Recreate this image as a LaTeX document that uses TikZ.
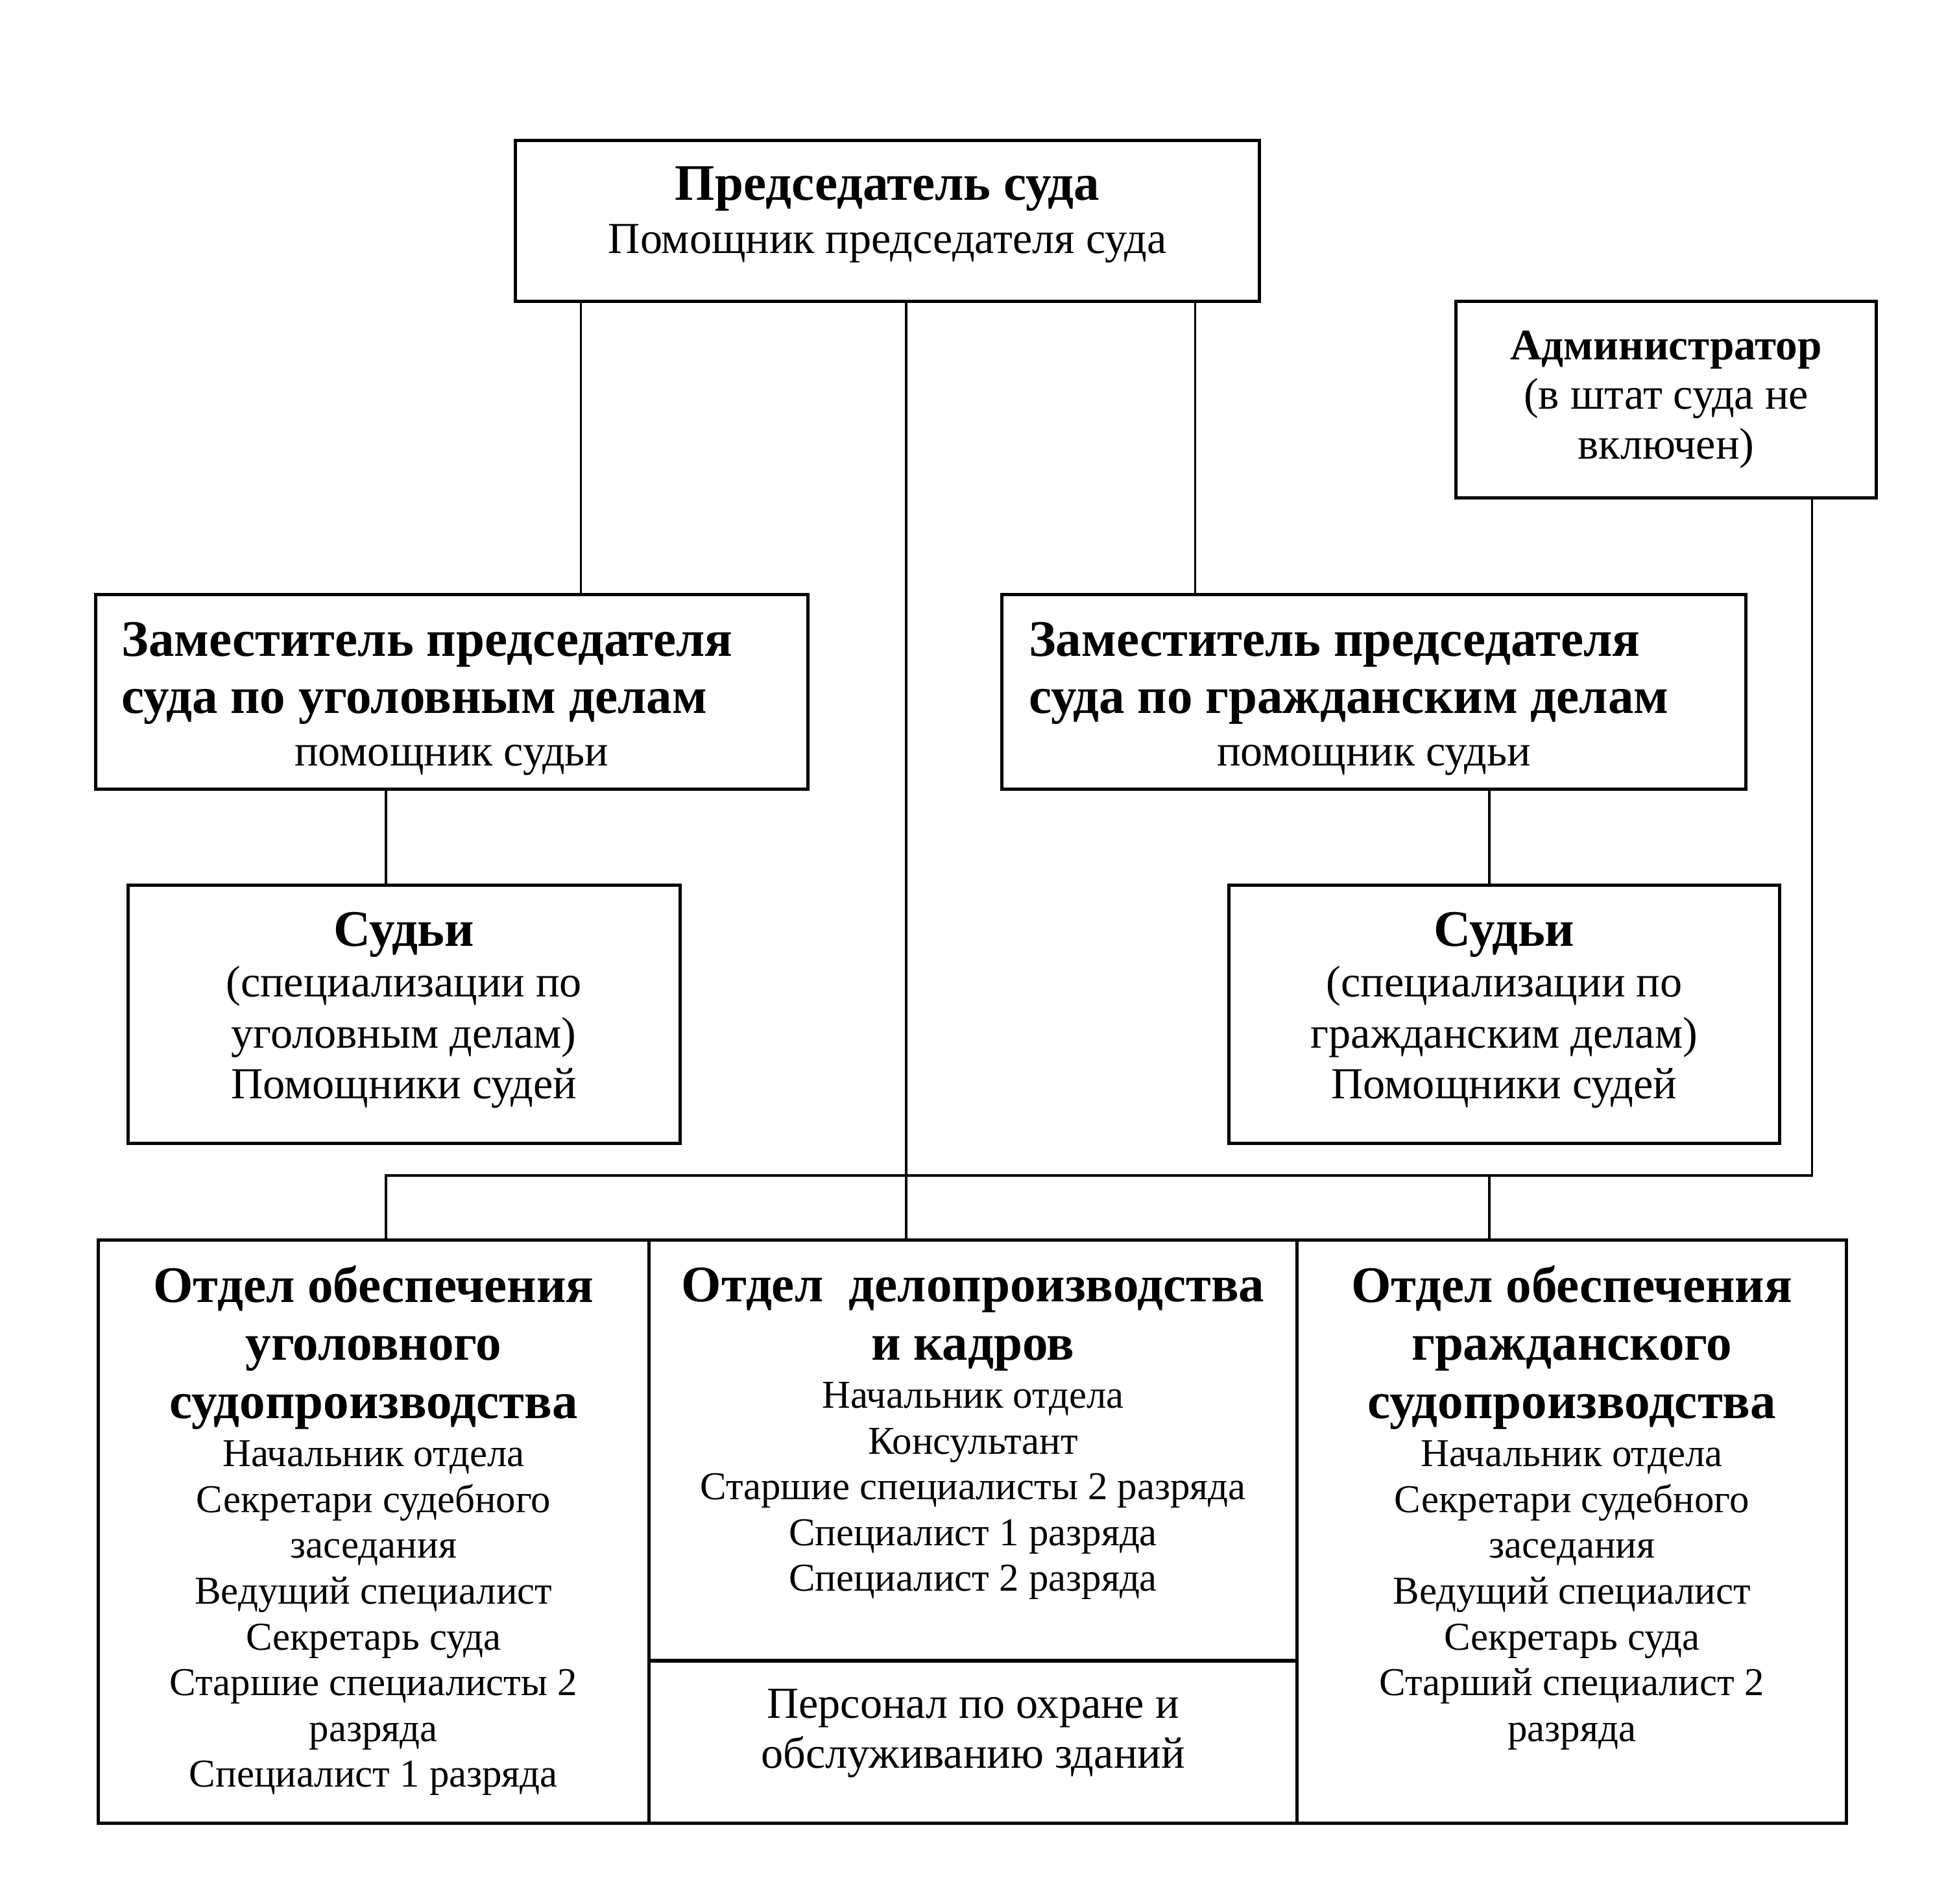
\documentclass[tikz,border=0pt]{standalone}
\usepackage{fontspec}
\setmainfont{Liberation Serif}
\newcommand{\boldline}[1][26.5]{\bfseries\fontsize{23.5}{#1}\selectfont\ignorespaces}
\newcommand{\plainline}[1][23.3]{\mdseries\fontsize{20.3}{#1}\selectfont\ignorespaces}
\newcommand{\smallline}[1][21]{\mdseries\fontsize{18.1}{#1}\selectfont\ignorespaces}
\tikzset{
  box/.style={draw, rectangle, line width=1.5pt, inner sep=0},
  link/.style={line width=1.1pt},
}
\begin{document}
\begin{tikzpicture}[x=0.02cm, y=-0.02cm]
\useasboundingbox (0,0) rectangle (1568,1534);
% upper level
\node (chair) [box] at (715,178) {\parbox[c][2.6cm][t]{12cm}{\centering\vspace*{0.42cm}{\boldline Председатель суда\par}{\plainline[24.5] Помощник председателя суда\par}}};
\node (admin) [box] at (1342.5,322) {\parbox[c][3.16cm][t]{6.78cm}{\centering\vspace*{0.47cm}{\bfseries\fontsize{20}{22.8}\selectfont Администратор\par}{\plainline[22.8] (в штат суда не\\ включен)\par}}};
% deputies
\node (zcrim) [box] at (364,557.5) {\parbox[c][3.14cm][t]{11.48cm}{\raggedright\leftskip=0.42cm\vspace*{0.45cm}{\boldline[26.2] Заместитель председателя\\ суда по уголовным делам\par}{\leftskip=0pt\centering\plainline[23.9] помощник судьи\par}}};
\node (zciv) [box] at (1107,557.5) {\parbox[c][3.14cm][t]{12cm}{\raggedright\leftskip=0.44cm\vspace*{0.45cm}{\boldline[26.2] Заместитель председателя\\ суда по гражданским делам\par}{\leftskip=0pt\centering\plainline[23.9] помощник судьи\par}}};
% judges
\node (scrim) [box] at (325.5,817) {\parbox[c][4.16cm][t]{8.9cm}{\centering\vspace*{0.44cm}{\boldline Судьи\par}{\plainline (специализации по\\ уголовным делам)\\ Помощники судей\par}}};
\node (sciv) [box] at (1212,817) {\parbox[c][4.16cm][t]{8.88cm}{\centering\vspace*{0.44cm}{\boldline Судьи\par}{\plainline (специализации по\\ гражданским делам)\\ Помощники судей\par}}};
% departments
\node (ocrim) [box] at (301,1234) {\parbox[c][9.4cm][t]{8.88cm}{\centering\vspace*{0.41cm}{\boldline[26.7] Отдел обеспечения\\ уголовного\\ судопроизводства\par}{\smallline[22] Начальник отдела\par}{\smallline Секретари судебного\\ заседания\\ Ведущий специалист\\ Секретарь суда\\ Старшие специалисты 2\\ разряда\\ Специалист 1 разряда\par}}};
\node (odel) [box] at (784,1168.5) {\parbox[c][6.78cm][t]{10.44cm}{\centering\vspace*{0.45cm}{\boldline[26.7] Отдел\ \ делопроизводства\\ и кадров\par}{\smallline[22] Начальник отдела\par}{\smallline Консультант\\ Старшие специалисты 2 разряда\\ Специалист 1 разряда\\ Специалист 2 разряда\par}}};
\node (ohr) [box] at (784,1403.5) {\parbox[c][2.62cm][t]{10.44cm}{\centering\vspace*{0.46cm}{\plainline[22.8] Персонал по охране и\\ обслуживанию зданий\par}}};
\node (ociv) [box] at (1266.5,1234) {\parbox[c][9.4cm][t]{8.86cm}{\centering\vspace*{0.41cm}{\boldline[26.7] Отдел обеспечения\\ гражданского\\ судопроизводства\par}{\smallline[22] Начальник отдела\par}{\smallline Секретари судебного\\ заседания\\ Ведущий специалист\\ Секретарь суда\\ Старший специалист 2\\ разряда\par}}};
% connectors
\coordinate (tl) at (468,0);
\coordinate (tm) at (730,0);
\coordinate (tr) at (963,0);
\coordinate (ml) at (311,0);
\coordinate (mr) at (1200,0);
\coordinate (ar) at (1460,0);
\coordinate (bus) at (0,947);
\draw[link] (chair.south -| tl) -- (zcrim.north -| tl);
\draw[link] (chair.south -| tr) -- (zciv.north -| tr);
\draw[link] (chair.south -| tm) -- (odel.north -| tm);
\draw[link] (zcrim.south -| ml) -- (scrim.north -| ml);
\draw[link] (zciv.south -| mr) -- (sciv.north -| mr);
\draw[link] (admin.south -| ar) |- (bus -| ml) -- (ocrim.north -| ml);
\draw[link] (bus -| mr) -- (ociv.north -| mr);
\end{tikzpicture}
\end{document}
